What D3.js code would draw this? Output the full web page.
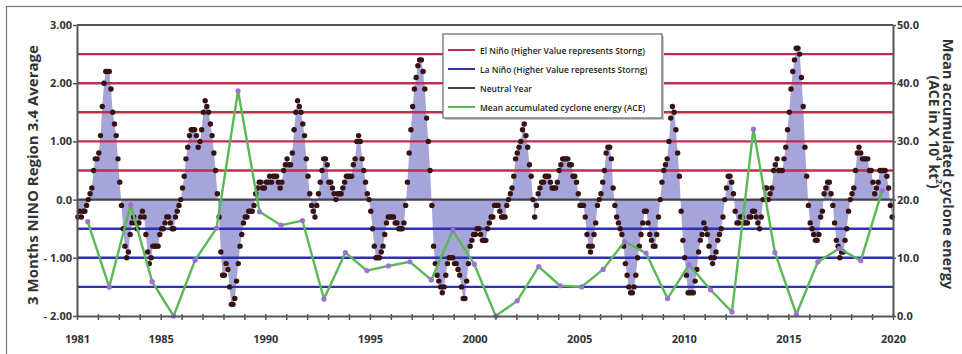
<!DOCTYPE html>
<html>
<head>
<meta charset="utf-8">
<script src="https://cdn.jsdelivr.net/npm/d3@7"></script>
<style>
  body { margin: 0; background: #fff; }
  svg { display: block; font-family: 'Open Sans', sans-serif; }
</style>
</head>
<body>
<div id="container"></div>
<script>
// ENSO (3 month Nino 3.4 average) vs mean accumulated cyclone energy

//### DATA ###
// 3 month running Nino 3.4 values, one per month, JJA 1981 -> MJJ 2020
const oniValues = [
  -0.3, -0.2, -0.3, -0.2, -0.2, -0.1,                               // 1981 (from JJA)
  0.0, 0.1, 0.2, 0.5, 0.7, 0.7, 0.8, 1.1, 1.6, 2.0, 2.2, 2.2,       // 1982
  2.2, 1.9, 1.5, 1.3, 1.1, 0.7, 0.3, -0.1, -0.5, -0.8, -1.0, -0.9,  // 1983
  -0.6, -0.4, -0.3, -0.4, -0.5, -0.4, -0.3, -0.2, -0.3, -0.6, -0.9, -1.1, // 1984
  -1.0, -0.8, -0.8, -0.8, -0.8, -0.6, -0.5, -0.5, -0.4, -0.3, -0.3, -0.4, // 1985
  -0.5, -0.5, -0.3, -0.2, -0.1, 0.0, 0.2, 0.4, 0.7, 0.9, 1.1, 1.2,  // 1986
  1.2, 1.2, 1.1, 0.9, 1.0, 1.2, 1.5, 1.7, 1.6, 1.5, 1.3, 1.1,       // 1987
  0.8, 0.5, 0.1, -0.3, -0.9, -1.3, -1.3, -1.1, -1.2, -1.5, -1.8, -1.8, // 1988
  -1.7, -1.4, -1.1, -0.8, -0.6, -0.4, -0.3, -0.3, -0.2, -0.2, -0.2, -0.1, // 1989
  0.1, 0.2, 0.3, 0.3, 0.2, 0.2, 0.3, 0.3, 0.4, 0.3, 0.4, 0.4,       // 1990
  0.4, 0.3, 0.2, 0.3, 0.5, 0.6, 0.7, 0.6, 0.6, 0.8, 1.2, 1.5,       // 1991
  1.7, 1.6, 1.5, 1.3, 1.1, 0.7, 0.4, 0.1, -0.1, -0.2, -0.3, -0.1,   // 1992
  0.1, 0.3, 0.5, 0.7, 0.7, 0.6, 0.3, 0.3, 0.2, 0.1, 0.0, 0.1,       // 1993
  0.1, 0.1, 0.2, 0.3, 0.4, 0.4, 0.4, 0.4, 0.6, 0.7, 1.0, 1.1,       // 1994
  1.0, 0.7, 0.5, 0.3, 0.1, 0.0, -0.2, -0.5, -0.8, -1.0, -1.0, -1.0, // 1995
  -0.9, -0.8, -0.6, -0.4, -0.3, -0.3, -0.3, -0.3, -0.4, -0.4, -0.5, -0.5, // 1996
  -0.5, -0.4, -0.1, 0.3, 0.8, 1.2, 1.6, 1.9, 2.1, 2.3, 2.4, 2.4,    // 1997
  2.2, 1.9, 1.4, 1.0, 0.5, -0.1, -0.8, -1.1, -1.3, -1.4, -1.5, -1.6, // 1998
  -1.5, -1.3, -1.1, -1.0, -1.0, -1.0, -1.1, -1.1, -1.2, -1.3, -1.5, -1.7, // 1999
  -1.7, -1.4, -1.1, -0.8, -0.7, -0.6, -0.6, -0.5, -0.5, -0.6, -0.7, -0.7, // 2000
  -0.7, -0.5, -0.4, -0.3, -0.3, -0.1, -0.1, -0.1, -0.2, -0.3, -0.3, -0.3, // 2001
  -0.1, 0.0, 0.1, 0.2, 0.4, 0.7, 0.8, 0.9, 1.0, 1.2, 1.3, 1.1,      // 2002
  0.9, 0.6, 0.4, 0.0, -0.3, -0.1, 0.1, 0.2, 0.3, 0.3, 0.4, 0.4,     // 2003
  0.4, 0.3, 0.2, 0.2, 0.2, 0.3, 0.5, 0.6, 0.7, 0.7, 0.7, 0.7,       // 2004
  0.6, 0.6, 0.4, 0.4, 0.3, 0.1, -0.1, -0.1, -0.1, -0.3, -0.6, -0.8, // 2005
  -0.9, -0.8, -0.6, -0.4, -0.1, 0.0, 0.1, 0.3, 0.5, 0.8, 0.9, 0.9,  // 2006
  0.7, 0.2, -0.1, -0.3, -0.4, -0.5, -0.6, -0.8, -1.1, -1.3, -1.5, -1.6, // 2007
  -1.6, -1.5, -1.3, -1.0, -0.8, -0.6, -0.4, -0.2, -0.2, -0.4, -0.6, -0.7, // 2008
  -0.8, -0.8, -0.6, -0.3, 0.0, 0.3, 0.5, 0.6, 0.7, 1.0, 1.4, 1.6,   // 2009
  1.5, 1.2, 0.8, 0.4, -0.2, -0.7, -1.0, -1.3, -1.6, -1.6, -1.6, -1.6, // 2010
  -1.4, -1.2, -0.9, -0.7, -0.6, -0.4, -0.5, -0.6, -0.8, -1.0, -1.1, -1.0, // 2011
  -0.9, -0.7, -0.6, -0.5, -0.3, 0.0, 0.2, 0.4, 0.4, 0.3, 0.1, -0.2, // 2012
  -0.4, -0.4, -0.3, -0.3, -0.4, -0.4, -0.4, -0.3, -0.3, -0.2, -0.2, -0.3, // 2013
  -0.4, -0.5, -0.3, 0.0, 0.2, 0.2, 0.0, 0.1, 0.2, 0.5, 0.6, 0.7,    // 2014
  0.5, 0.5, 0.5, 0.7, 0.9, 1.2, 1.5, 1.9, 2.2, 2.4, 2.6, 2.6,       // 2015
  2.5, 2.1, 1.6, 0.9, 0.4, -0.1, -0.4, -0.5, -0.6, -0.7, -0.7, -0.6, // 2016
  -0.3, -0.2, 0.1, 0.2, 0.3, 0.3, 0.1, -0.1, -0.4, -0.7, -0.8, -1.0, // 2017
  -0.9, -0.9, -0.7, -0.5, -0.2, 0.0, 0.1, 0.2, 0.5, 0.8, 0.9, 0.8,  // 2018
  0.7, 0.7, 0.7, 0.7, 0.5, 0.5, 0.3, 0.1, 0.2, 0.3, 0.5, 0.5,       // 2019
  0.5, 0.5, 0.4, 0.2, -0.1, -0.3                                    // 2020 (to MJJ)
];

// Mean accumulated cyclone energy, one per year
const aceYears = [
  1981, 1982, 1983, 1984, 1985, 1986, 1987, 1988, 1989, 1990,
  1991, 1992, 1993, 1994, 1995, 1996, 1997, 1998, 1999, 2000,
  2001, 2002, 2003, 2004, 2005, 2006, 2007, 2008, 2009, 2010,
  2011, 2012, 2013, 2014, 2015, 2016, 2017, 2018
];
const aceValues = [
  16.2, 5.0, 19.1, 5.9, 0.0, 9.6, 15.1, 38.7, 17.9, 15.6,
  16.4, 2.9, 10.9, 7.8, 8.6, 9.3, 6.2, 14.7, 8.9, 0.0,
  2.6, 8.5, 5.2, 5.0, 8.0, 12.8, 10.8, 3.0, 8.8, 4.5,
  0.7, 32.1, 10.9, 0.3, 9.3, 11.6, 9.5, 21.6
];

// Reference lines
const elNinoLevels = [ 0.5, 1.0, 1.5, 2.0, 2.5 ];
const laNinaLevels = [ -0.5, -1.0, -1.5 ];
const neutralLevel = [ 0 ];

// Ticks
const leftTicks = [ 3, 2, 1, 0, -1, -2 ];
const leftTickLabels = [ '3.00', '2.00', '1.00', '0.0', '- 1.00', '- 2.00' ];
const rightTicks = [ 0, 10, 20, 30, 40, 50 ];
const yearTicks = [ 1981, 1985, 1990, 1995, 2000, 2005, 2010, 2015, 2020 ];

// Legend
const legendLabels = [
  'El Niño (Higher Value represents Storng)',
  'La Niño (Higher Value represents Storng)',
  'Neutral Year',
  'Mean accumulated cyclone energy (ACE)'
];


//### CREATE THE VISUALIZATION ###
function createVisualization () {

  //_____ VARIABLES _____
  const margin = { top: 25, right: 69, bottom: 38, left: 77 };
  const svgWidth = 962;
  const svgHeight = 354;
  const width = svgWidth - margin.left - margin.right;
  const height = svgHeight - margin.top - margin.bottom;

  const elNinoColor = '#bd2f4f';
  const laNinaColor = '#2f2fb6';
  const neutralColor = '#444';
  const aceColor = '#5ab857';
  const aceMarker = '#a070d6';
  const areaColor = '#a5a5da';
  const dotColor = '#361212';
  const axisColor = '#555';
  const textColor = '#333';


  //_____ SCALES _____
  const yScale = d3.scaleLinear().domain( [ -2, 3 ] ).range( [ height, 0 ] );
  const aceScale = d3.scaleLinear().domain( [ 0, 50 ] ).range( [ height, 0 ] );
  const yearScale = d3.scaleLinear().domain( [ 1981, 2020 ] ).range( [ 0, width ] );
  //--- Both series are spread over the full width as categories
  const oniScale = d3.scalePoint()
    .domain( d3.range( oniValues.length ) )
    .range( [ 0, width ] )
    .padding( 0.5 );
  const aceX = d3.scalePoint()
    .domain( aceYears )
    .range( [ 0, width ] )
    .padding( 0.5 );


  //_____ SVG _____
  const root = d3.select( '#container' )
    .append( 'svg' )
    .attr( 'width', svgWidth )
    .attr( 'height', svgHeight );

  //>>> Outer frame
  root.append( 'rect' )
    .attr( 'x', 6.5 )
    .attr( 'y', 6.5 )
    .attr( 'width', 1000 )
    .attr( 'height', 400 )
    .attr( 'fill', 'none' )
    .attr( 'stroke', '#777' )
    .attr( 'stroke-width', 1.2 );

  const svg = root.append( 'g' )
    .attr( 'transform', `translate(${margin.left}, ${margin.top})` );


  //_____ ONI AREA _____
  svg.append( 'path' )
    .datum( oniValues )
    .attr( 'fill', areaColor )
    .attr( 'd', d3.area()
      .x( ( d, i ) => oniScale( i ) )
      .y0( yScale( 0 ) )
      .y1( d => yScale( d ) ) );


  //_____ REFERENCE LINES _____
  const refLines = ( levels, color, cls ) => {
    svg.selectAll( '.' + cls )
      .data( levels )
      .enter()
      .append( 'line' )
      .attr( 'class', cls )
      .attr( 'x1', 0 )
      .attr( 'x2', width )
      .attr( 'y1', d => yScale( d ) )
      .attr( 'y2', d => yScale( d ) )
      .attr( 'stroke', color )
      .attr( 'stroke-width', 2.4 );
  };
  refLines( elNinoLevels, elNinoColor, 'el-nino' );
  refLines( laNinaLevels, laNinaColor, 'la-nina' );
  refLines( neutralLevel, neutralColor, 'neutral' );


  //_____ ONI DOTS _____
  svg.selectAll( '.oni' )
    .data( oniValues )
    .enter()
    .append( 'circle' )
    .attr( 'class', 'oni' )
    .attr( 'cx', ( d, i ) => oniScale( i ) )
    .attr( 'cy', d => yScale( d ) )
    .attr( 'r', 2.7 )
    .attr( 'fill', dotColor );


  //_____ ACE LINE _____
  svg.append( 'path' )
    .datum( aceValues )
    .attr( 'fill', 'none' )
    .attr( 'stroke', aceColor )
    .attr( 'stroke-width', 2.4 )
    .attr( 'd', d3.line()
      .x( ( d, i ) => aceX( aceYears[ i ] ) )
      .y( d => aceScale( d ) ) );

  svg.selectAll( '.ace' )
    .data( aceValues )
    .enter()
    .append( 'circle' )
    .attr( 'class', 'ace' )
    .attr( 'cx', ( d, i ) => aceX( aceYears[ i ] ) )
    .attr( 'cy', d => aceScale( d ) )
    .attr( 'r', 2.6 )
    .attr( 'fill', aceMarker );


  //_____ AXES _____
  //>>> Top border
  svg.append( 'line' )
    .attr( 'x1', 0 ).attr( 'x2', width )
    .attr( 'y1', 0 ).attr( 'y2', 0 )
    .attr( 'stroke', axisColor )
    .attr( 'stroke-width', 2 );

  const xAxis = d3.axisBottom( yearScale )
    .tickValues( d3.range( 1981, 2021 ) )
    .tickFormat( d => yearTicks.includes( d ) ? d : '' )
    .tickSizeOuter( 0 )
    .tickSizeInner( 4 )
    .tickPadding( 15 );

  const yAxis = d3.axisLeft( yScale )
    .tickValues( leftTicks )
    .tickFormat( ( d, i ) => leftTickLabels[ i ] )
    .tickSizeOuter( 0 )
    .tickSizeInner( 4 )
    .tickPadding( 1 );

  const aceAxis = d3.axisRight( aceScale )
    .tickValues( rightTicks )
    .tickFormat( d3.format( '.1f' ) )
    .tickSizeOuter( 0 )
    .tickSizeInner( 3 )
    .tickPadding( 1 );

  const gx = svg.append( 'g' )
    .attr( 'transform', `translate(0, ${height})` )
    .call( xAxis );
  gx.selectAll( '.tick line' ).attr( 'y1', -2 );

  const gy = svg.append( 'g' ).call( yAxis );
  const gr = svg.append( 'g' )
    .attr( 'transform', `translate(${width}, 0)` )
    .call( aceAxis );

  [ gx, gy, gr ].forEach( g => {
    g.select( '.domain' ).attr( 'stroke', axisColor ).attr( 'stroke-width', 2 );
    g.selectAll( '.tick line' ).attr( 'stroke', axisColor ).attr( 'stroke-width', 1.5 );
    g.selectAll( 'text' )
      .attr( 'fill', textColor )
      .style( 'font-family', "'Open Sans', sans-serif" )
      .style( 'font-weight', 'bold' )
      .style( 'font-size', '11px' );
  } );


  //_____ AXIS TITLES _____
  root.append( 'text' )
    .attr( 'transform', 'translate(32, 175) rotate(-90)' )
    .attr( 'text-anchor', 'middle' )
    .attr( 'dominant-baseline', 'central' )
    .style( 'font-weight', 'bold' )
    .style( 'font-size', '15px' )
    .attr( 'fill', textColor )
    .text( '3 Months NINO Region 3.4 Average' );

  root.append( 'text' )
    .attr( 'transform', 'translate(948, 164) rotate(90)' )
    .attr( 'text-anchor', 'middle' )
    .attr( 'dominant-baseline', 'central' )
    .style( 'font-weight', 'bold' )
    .style( 'font-size', '14.5px' )
    .attr( 'fill', textColor )
    .text( 'Mean accumulated cyclone energy' );

  const sub = root.append( 'text' )
    .attr( 'transform', 'translate(935, 132) rotate(90)' )
    .attr( 'text-anchor', 'middle' )
    .attr( 'dominant-baseline', 'central' )
    .style( 'font-weight', 'bold' )
    .style( 'font-size', '14px' )
    .attr( 'fill', textColor );
  sub.append( 'tspan' ).text( '(ACE in X 10' );
  sub.append( 'tspan' ).attr( 'dy', -5 ).style( 'font-size', '8px' ).text( '4' );
  sub.append( 'tspan' ).attr( 'dy', 5 ).text( ' kt' );
  sub.append( 'tspan' ).attr( 'dy', -5 ).style( 'font-size', '8px' ).text( '2' );
  sub.append( 'tspan' ).attr( 'dy', 5 ).text( ')' );


  //_____ LEGEND _____
  const legendColors = [ elNinoColor, laNinaColor, neutralColor, aceColor ];
  const legend = root.append( 'g' )
    .attr( 'transform', 'translate(443, 34)' );

  legend.append( 'rect' )
    .attr( 'x', 2 ).attr( 'y', 2 )
    .attr( 'width', 219 ).attr( 'height', 84 )
    .attr( 'fill', '#c8c8c8' );
  legend.append( 'rect' )
    .attr( 'width', 219 ).attr( 'height', 84 )
    .attr( 'fill', '#fff' )
    .attr( 'stroke', '#666' )
    .attr( 'stroke-width', 1.2 );

  const items = legend.selectAll( '.item' )
    .data( legendLabels )
    .enter()
    .append( 'g' )
    .attr( 'class', 'item' )
    .attr( 'transform', ( d, i ) => `translate(0, ${16 + i * 19})` );

  items.append( 'line' )
    .attr( 'x1', 5 ).attr( 'x2', 32 )
    .attr( 'stroke', ( d, i ) => legendColors[ i ] )
    .attr( 'stroke-width', 2 );

  items.append( 'text' )
    .attr( 'x', 37 )
    .attr( 'dominant-baseline', 'central' )
    .style( 'font-size', '8.5px' )
    .style( 'font-weight', 600 )
    .attr( 'fill', '#222' )
    .text( d => d );
}

createVisualization();
</script>
</body>
</html>
